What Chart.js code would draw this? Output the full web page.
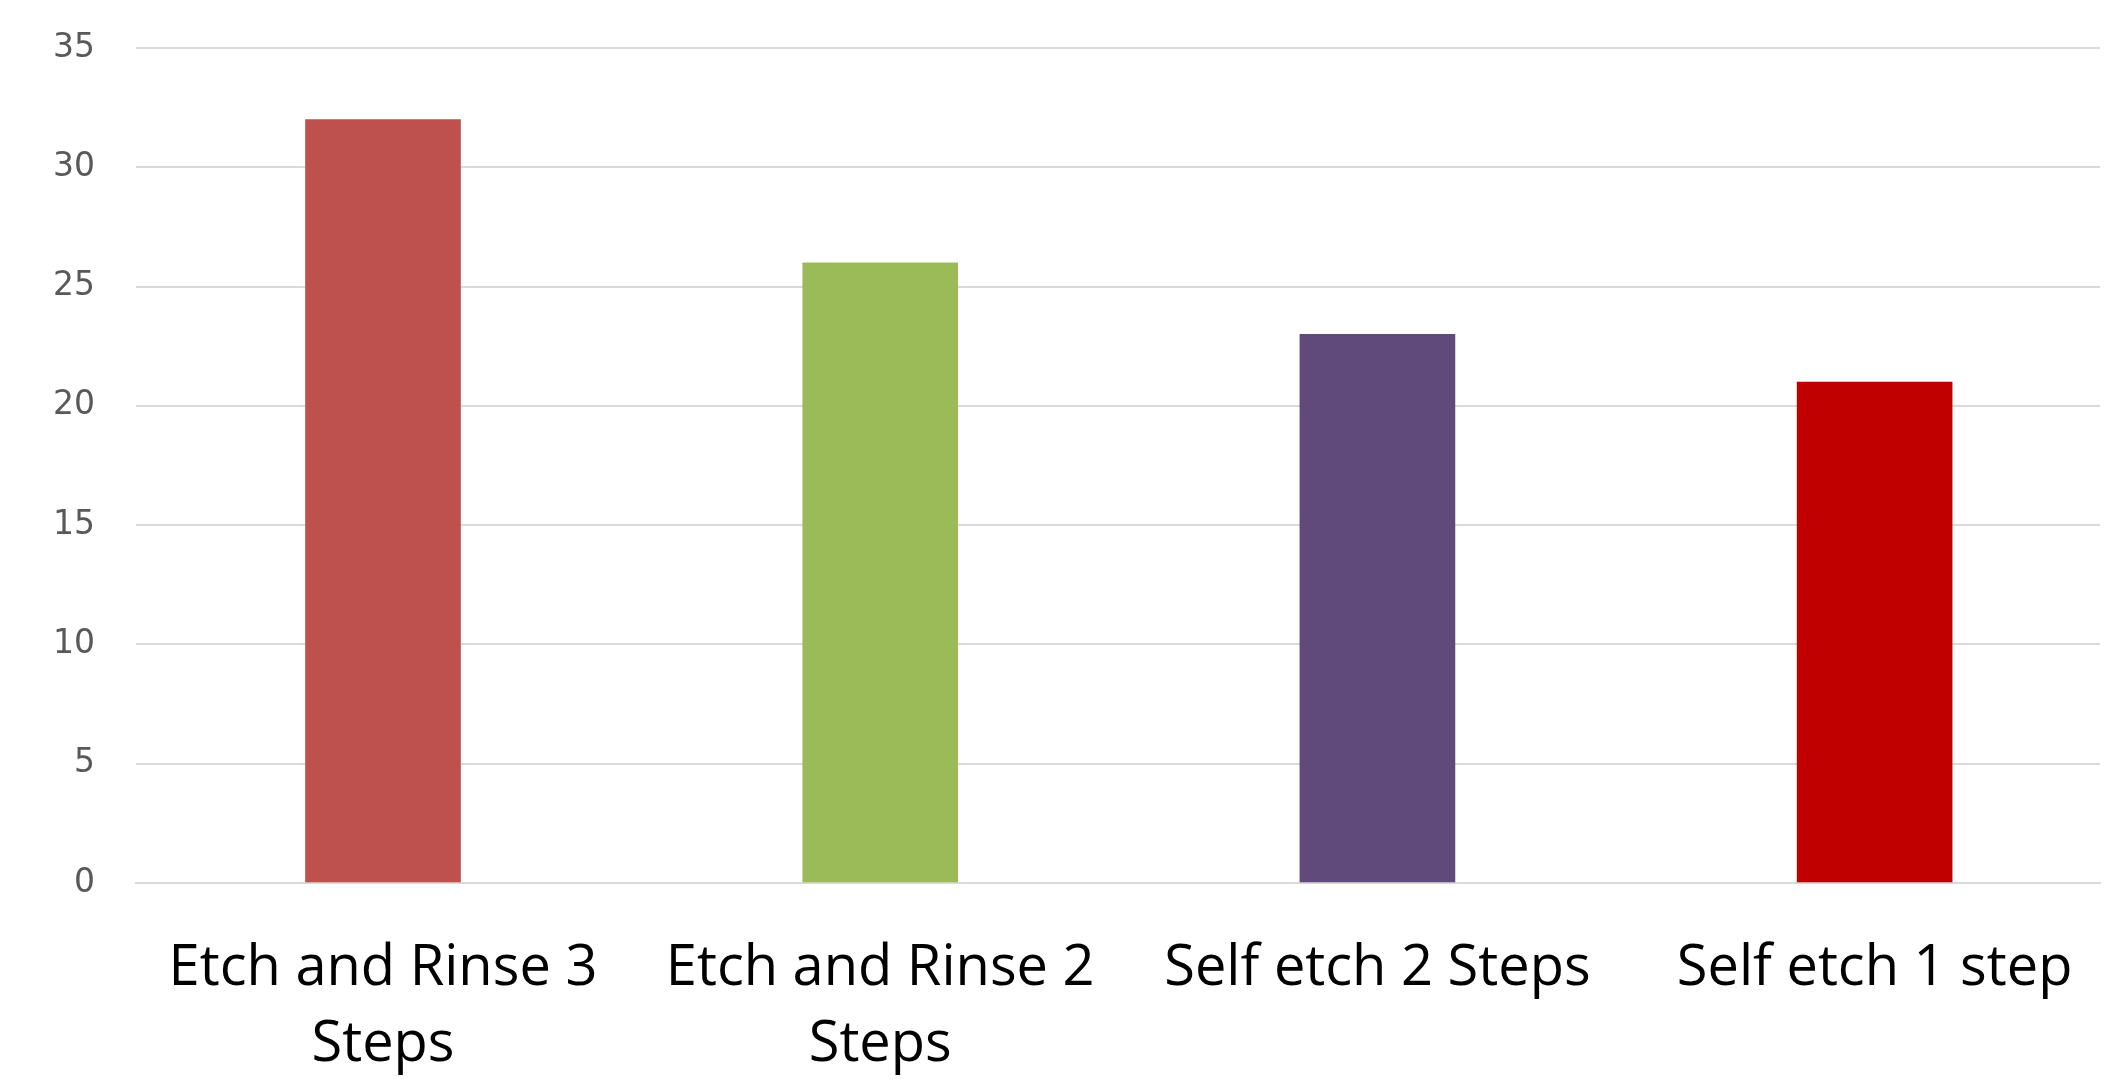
<!DOCTYPE html>
<html>
<head>
<meta charset="utf-8">
<script src="https://cdn.jsdelivr.net/npm/chart.js@4.4.1/dist/chart.umd.min.js"></script>
<style>
  html, body { margin: 0; padding: 0; background: #fff; overflow: hidden; }
  #wrap { position: relative; width: 2124px; height: 1084px; }
</style>
</head>
<body>
<div id="wrap"><canvas id="chartSteps"></canvas></div>
<script>
    // categories (multi-line labels as arrays)
    const categories = [
        ["Etch and Rinse 3", "Steps"],
        ["Etch and Rinse 2", "Steps"],
        "Self etch 2 Steps",
        "Self etch 1 step"
    ];
    const values = [32, 26, 23, 21];
    const barColors = ["#BE504E", "#9BBB59", "#5F4A7B", "#C00000"];
    const yTicks = [0, 5, 10, 15, 20, 25, 30, 35];
    const xTicks = [0, 1, 2, 3];

    const chartSteps = document.getElementById("chartSteps");

    new Chart(chartSteps, {
        type: "bar",
        data: {
            datasets: [
                {
                    data: values.map((v, i) => ({ x: xTicks[i], y: v })),
                    backgroundColor: barColors,
                    borderWidth: 0,
                    barThickness: 155,
                },
            ],
        },
        options: {
            responsive: true,
            maintainAspectRatio: false,
            animation: false,
            devicePixelRatio: 1,
            layout: {
                padding: { top: 48, left: 0, right: 24, bottom: 0 }
            },
            plugins: {
                legend: { display: false },
                tooltip: { enabled: false },
            },
            scales: {
                x: {
                    type: "linear",
                    offset: false,
                    // the plot area ends a little before the last category slot
                    min: -0.4968,
                    max: 3.4533,
                    afterBuildTicks: (scale) => {
                        scale.ticks = xTicks.map((v) => ({ value: v }));
                    },
                    grid: { display: false, drawTicks: false, offset: false },
                    border: { display: true, color: "#d9d9d9", width: 2 },
                    ticks: {
                        color: "#000",
                        padding: 49,
                        maxRotation: 0,
                        autoSkip: false,
                        callback: (value) => categories[value],
                        font: { family: "'Open Sans'", size: 56, lineHeight: 1.34 },
                    },
                    afterFit: (scale) => {
                        scale.height = 201;
                        scale.paddingLeft = 0;
                        scale.paddingRight = 0;
                    },
                },
                y: {
                    min: 0,
                    max: 35,
                    afterBuildTicks: (scale) => {
                        scale.ticks = yTicks.map((v) => ({ value: v }));
                    },
                    grid: { color: "#d9d9d9", lineWidth: 2, drawTicks: false },
                    border: { display: false },
                    ticks: {
                        color: "#595959",
                        padding: 41,
                        font: { family: "'DejaVu Sans'", size: 33 },
                    },
                    afterFit: (scale) => {
                        scale.width = 136;
                        scale.paddingTop = 0;
                        scale.paddingBottom = 0;
                    },
                },
            },
        },
    });
</script>
</body>
</html>
